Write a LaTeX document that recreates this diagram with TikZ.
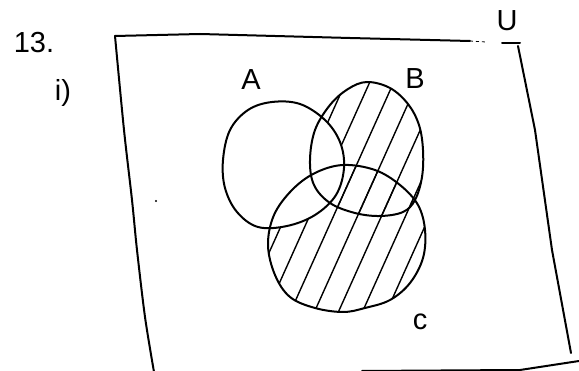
\documentclass[tikz,border=0pt]{standalone}
\usepackage{fontspec}
\setmainfont{Liberation Sans}
\begin{document}
\begin{tikzpicture}[x=1pt,y=-1pt,
  outline/.style={line width=2pt, line join=round, line cap=round},
  hatchline/.style={line width=1.4pt, line cap=round},
  lbl/.style={inner sep=0pt, font=\fontsize{29}{29}\selectfont}]
\useasboundingbox (0,0) rectangle (579,371);
\def\pathA{plot[smooth cycle, tension=0.6] coordinates {(272,102) (300,104) (325,120) (340,142) (344,168) (336,195) (315,215) (287,226) (258,227) (237,212) (225,188) (223,160) (230,130) (248,110)}}
\def\pathB{plot[smooth cycle, tension=0.6] coordinates {(367,82) (390,88) (408,104) (419,125) (423,150) (422,177) (415,200) (403,212) (380,216) (355,213) (330,203) (314,185) (310,160) (315,130) (330,105) (348,89)}}
\def\pathC{plot[smooth cycle, tension=0.6] coordinates {(343,165) (375,170) (400,185) (418,205) (425,230) (423,258) (410,283) (390,300) (365,308) (343,312) (315,308) (290,297) (275,275) (268,245) (274,215) (292,190) (315,173)}}
% hatching: (B union C) minus A
\foreach \k in {232,256,280,304,328,352,376,400,424,448}{
  \begin{scope}
    \clip \pathB;
    \draw[hatchline] (\k,335) -- (\k+117,75);
  \end{scope}
  \begin{scope}
    \clip \pathC;
    \draw[hatchline] (\k,335) -- (\k+117,75);
  \end{scope}
}
\fill[white] \pathA;
% outlines
\draw[outline] \pathA;
\draw[outline] \pathB;
\draw[outline] \pathC;
% universal frame
\draw[outline] plot[smooth, tension=0.5] coordinates {(115,36) (124,130) (132,200) (137,250) (145,317) (154,372)};
\draw[outline] (115,36) -- (200,34) -- (350,38) -- (470,41);
\draw[line width=0.8pt, dashed] (470,41) -- (486,42);
\draw[outline] (502,43) -- (520,43);
\draw[outline] (518,46) -- (535,130) -- (552,250) -- (571,353);
\draw[outline] (362,371) -- (520,370) -- (579,361);
\fill (156,201) circle (1.2pt);
% labels
\node[lbl] (num) at (34,43) {13.};
\node[lbl] (part) at (63,93) {i)};
\node[lbl] (lA) at (251,80) {A};
\node[lbl] (lB) at (415,79) {B};
\node[lbl] (lC) at (420,322) {c};
\node[lbl] (lU) at (507,21) {U};
\end{tikzpicture}
\end{document}
